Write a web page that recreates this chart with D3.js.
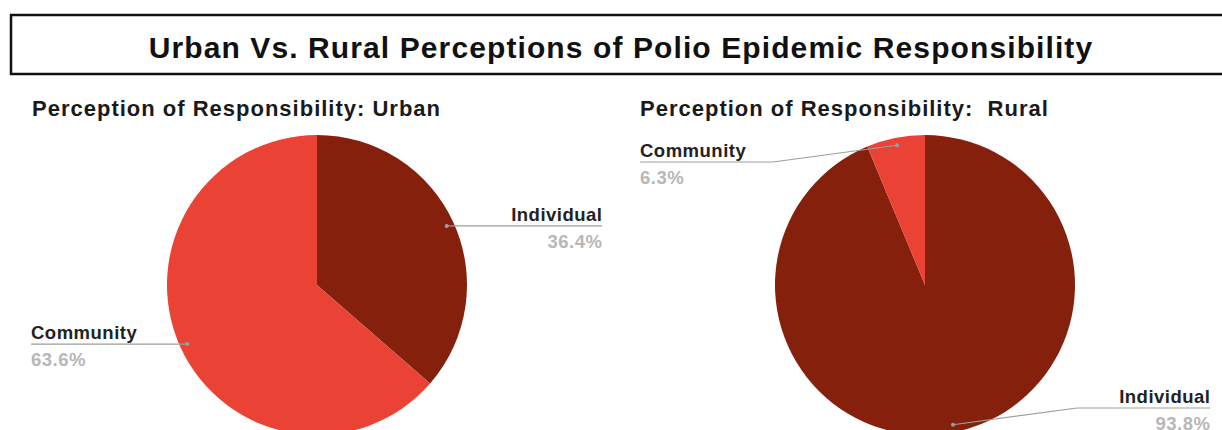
<!DOCTYPE html>
<html>
<head>
<meta charset="utf-8">
<script src="https://cdn.jsdelivr.net/npm/d3@7"></script>
<style>
  html, body { margin: 0; padding: 0; background: #fff; }
  svg { display: block; }
  text { font-family: "Liberation Sans", Arial, sans-serif; font-weight: bold; white-space: pre; }
</style>
</head>
<body>
<svg id="chart" width="1222" height="430"></svg>
<script>
// Data
const categories = ["Individual", "Community"];
const urbanValues = [36.4, 63.6];
const ruralValues = [93.8, 6.3];
const chartTitle = "Urban Vs. Rural Perceptions of Polio Epidemic Responsibility";
const urbanTitle = "Perception of Responsibility: Urban";
const ruralTitle = "Perception of Responsibility:  Rural";

const colors = d3.scaleOrdinal().domain(categories).range(["#85200c", "#ea4335"]);

const svg = d3.select("#chart");

// Title banner
svg.append("rect")
  .attr("x", 11).attr("y", 15).attr("width", 1230).attr("height", 59)
  .attr("fill", "#fff").attr("stroke", "#111").attr("stroke-width", 2.5);
svg.append("text")
  .attr("x", 621).attr("y", 58)
  .attr("text-anchor", "middle")
  .attr("font-size", 30).attr("letter-spacing", 1.1).attr("fill", "#111")
  .text(chartTitle);

const radius = 150;
const pie = d3.pie().sort(null).value(d => d.value);
const arc = d3.arc().innerRadius(0).outerRadius(radius);
const dotArc = d3.arc().innerRadius(radius * 0.95).outerRadius(radius * 0.95);

// Each panel: pie centre, subtitle, and per-slice label layout
const panels = [
  {
    title: urbanTitle, titleX: 32, cx: 317, cy: 285, values: urbanValues,
    labels: {
      Individual: { side: "right", endX: 602 },
      Community:  { side: "left",  endX: 31 }
    }
  },
  {
    title: ruralTitle, titleX: 640, cx: 925, cy: 285, values: ruralValues,
    labels: {
      Individual: { side: "right", endX: 1210, elbowX: 1077, elbowY: 408 },
      Community:  { side: "left",  endX: 640,  elbowX: 773,  elbowY: 162 }
    }
  }
];

panels.forEach(p => {
  svg.append("text")
    .attr("x", p.titleX).attr("y", 116)
    .attr("font-size", 22).attr("letter-spacing", 1).attr("fill", "#1a1a1a")
    .text(p.title);

  const g = svg.append("g").attr("transform", `translate(${p.cx},${p.cy})`);
  const data = pie(categories.map((c, i) => ({ name: c, value: p.values[i] })));

  g.selectAll("path.slice").data(data).join("path")
    .attr("class", "slice")
    .attr("d", arc)
    .attr("fill", d => colors(d.data.name));

  data.forEach(d => {
    const L = p.labels[d.data.name];
    const [dx, dy] = dotArc.centroid(d);
    const dotX = p.cx + dx, dotY = p.cy + dy;
    const lineY = L.elbowY !== undefined ? L.elbowY : dotY;
    const pts = [[dotX, dotY]];
    if (L.elbowX !== undefined) pts.push([L.elbowX, L.elbowY]);
    pts.push([L.endX, lineY]);

    svg.append("path")
      .attr("d", d3.line()(pts))
      .attr("fill", "none").attr("stroke", "#9e9e9e").attr("stroke-width", 1.2);
    svg.append("circle")
      .attr("cx", dotX).attr("cy", dotY).attr("r", 2)
      .attr("fill", "#9e9e9e");

    const anchor = L.side === "right" ? "end" : "start";
    // trailing letter-spacing shifts end-anchored text; compensate for it
    const shift = anchor === "end" ? 0.5 : 0;
    svg.append("text")
      .attr("x", L.endX + shift).attr("y", lineY - 5)
      .attr("text-anchor", anchor)
      .attr("font-size", 18.5).attr("letter-spacing", 0.5).attr("fill", "#222")
      .text(d.data.name);
    svg.append("text")
      .attr("x", L.endX + shift).attr("y", lineY + 22)
      .attr("text-anchor", anchor)
      .attr("font-size", 18.5).attr("letter-spacing", 0.5).attr("fill", "#b7b7b7")
      .text(d.data.value + "%");
  });
});
</script>
</body>
</html>
